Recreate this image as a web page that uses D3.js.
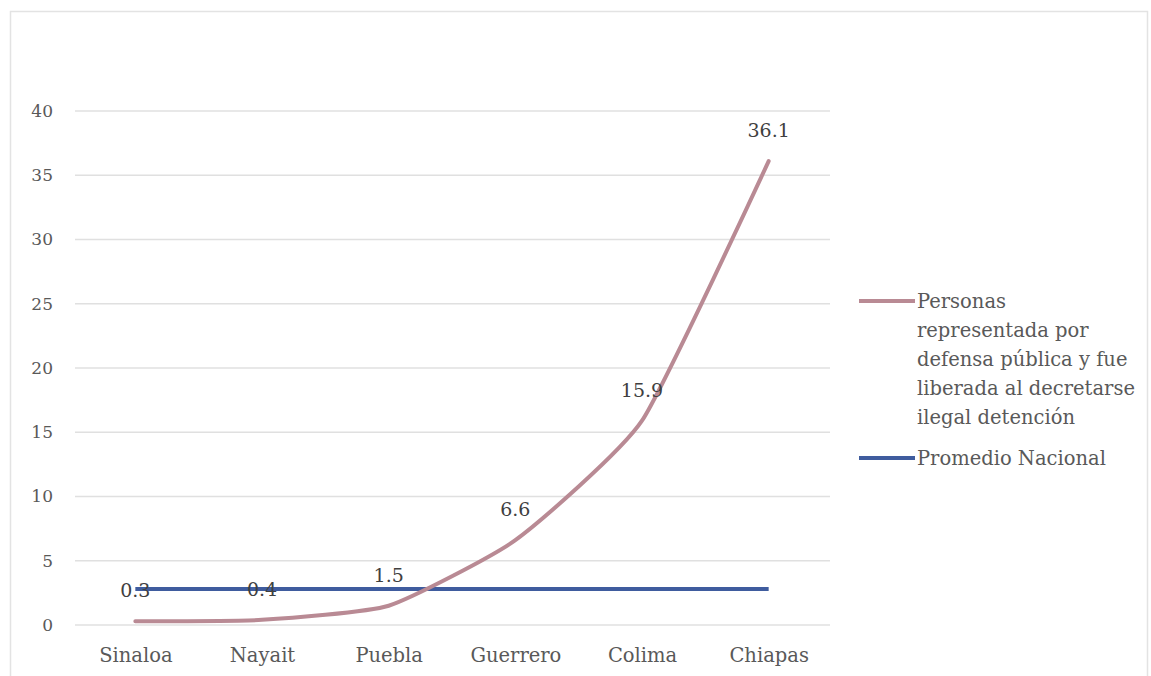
<!DOCTYPE html>
<html>
<head>
<meta charset="utf-8">
<script src="https://cdn.jsdelivr.net/npm/d3@7"></script>
<style>
  html, body { margin: 0; padding: 0; background: #ffffff; }
  svg { display: block; }
  text { font-family: "DejaVu Serif", "Liberation Serif", serif; }
</style>
</head>
<body>
<svg id="chart" width="1151" height="676"></svg>
<script>
const categories = ["Sinaloa", "Nayait", "Puebla", "Guerrero", "Colima", "Chiapas"];
const personasValues = [0.3, 0.4, 1.5, 6.6, 15.9, 36.1];
const promedioValues = [2.8, 2.8, 2.8, 2.8, 2.8, 2.8];
const yTicks = [0, 5, 10, 15, 20, 25, 30, 35, 40];
const legendPersonas = ["Personas", "representada por", "defensa pública y fue", "liberada al decretarse", "ilegal detención"];
const legendPromedio = "Promedio Nacional";

const svg = d3.select("#chart");

// outer frame
svg.append("rect")
  .attr("x", 10.5).attr("y", 11.5)
  .attr("width", 1137).attr("height", 700)
  .attr("fill", "#ffffff")
  .attr("stroke", "#e3e3e3").attr("stroke-width", 1.5);

const plot = { left: 72, right: 832, top: 111, bottom: 625 };

const x = d3.scalePoint()
  .domain(categories)
  .range([plot.left, plot.right])
  .padding(0.5);

const y = d3.scaleLinear()
  .domain([0, 40])
  .range([plot.bottom, plot.top]);

// gridlines
svg.append("g")
  .selectAll("line")
  .data(yTicks)
  .join("line")
  .attr("x1", 75).attr("x2", 830)
  .attr("y1", d => y(d)).attr("y2", d => y(d))
  .attr("stroke", "#e0e0e0").attr("stroke-width", 1.5);

// y axis labels
const yAxis = d3.axisLeft(y).tickValues(yTicks).tickSize(0).tickPadding(0).tickFormat(d3.format("d"));
const gy = svg.append("g")
  .attr("transform", "translate(53,0)")
  .call(yAxis);
gy.select(".domain").remove();
gy.selectAll("text")
  .attr("font-family", "'DejaVu Serif', serif")
  .attr("font-size", 17)
  .attr("fill", "#595959");

// x axis labels
const xAxis = d3.axisBottom(x).tickSize(0).tickPadding(0);
const gx = svg.append("g")
  .attr("transform", "translate(0,648)")
  .call(xAxis);
gx.select(".domain").remove();
gx.selectAll("text")
  .attr("font-family", "'DejaVu Serif', serif")
  .attr("font-size", 19.5)
  .attr("fill", "#595959");

// promedio line
const lineStraight = d3.line()
  .x((d, i) => x(categories[i]))
  .y(d => y(d));

svg.append("path")
  .datum(promedioValues)
  .attr("d", lineStraight)
  .attr("fill", "none")
  .attr("stroke", "#3f5c9e")
  .attr("stroke-width", 4);

// personas line (smoothed)
const lineSmooth = d3.line()
  .x((d, i) => x(categories[i]))
  .y(d => y(d))
  .curve(d3.curveCardinal.tension(0.5));

svg.append("path")
  .datum(personasValues)
  .attr("d", lineSmooth)
  .attr("fill", "none")
  .attr("stroke", "#b98a94")
  .attr("stroke-width", 4)
  .attr("stroke-linecap", "round");

// data labels
svg.append("g")
  .selectAll("text")
  .data(personasValues)
  .join("text")
  .attr("x", (d, i) => x(categories[i]))
  .attr("y", d => y(d) - 24)
  .attr("text-anchor", "middle")
  .attr("font-size", 19)
  .attr("fill", "#404040")
  .text(d => d3.format(".1f")(d));

// legend
const lg = svg.append("g");
lg.append("line")
  .attr("x1", 859).attr("x2", 915)
  .attr("y1", 301).attr("y2", 301)
  .attr("stroke", "#b98a94").attr("stroke-width", 4);
lg.append("g")
  .selectAll("text")
  .data(legendPersonas)
  .join("text")
  .attr("x", 917)
  .attr("y", (d, i) => 301 + i * 29)
  .attr("dy", "0.35em")
  .attr("font-size", 19.5)
  .attr("fill", "#595959")
  .text(d => d);

lg.append("line")
  .attr("x1", 859).attr("x2", 915)
  .attr("y1", 458).attr("y2", 458)
  .attr("stroke", "#3f5c9e").attr("stroke-width", 4);
lg.append("text")
  .attr("x", 917).attr("y", 458)
  .attr("dy", "0.35em")
  .attr("font-size", 19.5)
  .attr("fill", "#595959")
  .text(legendPromedio);
</script>
</body>
</html>
